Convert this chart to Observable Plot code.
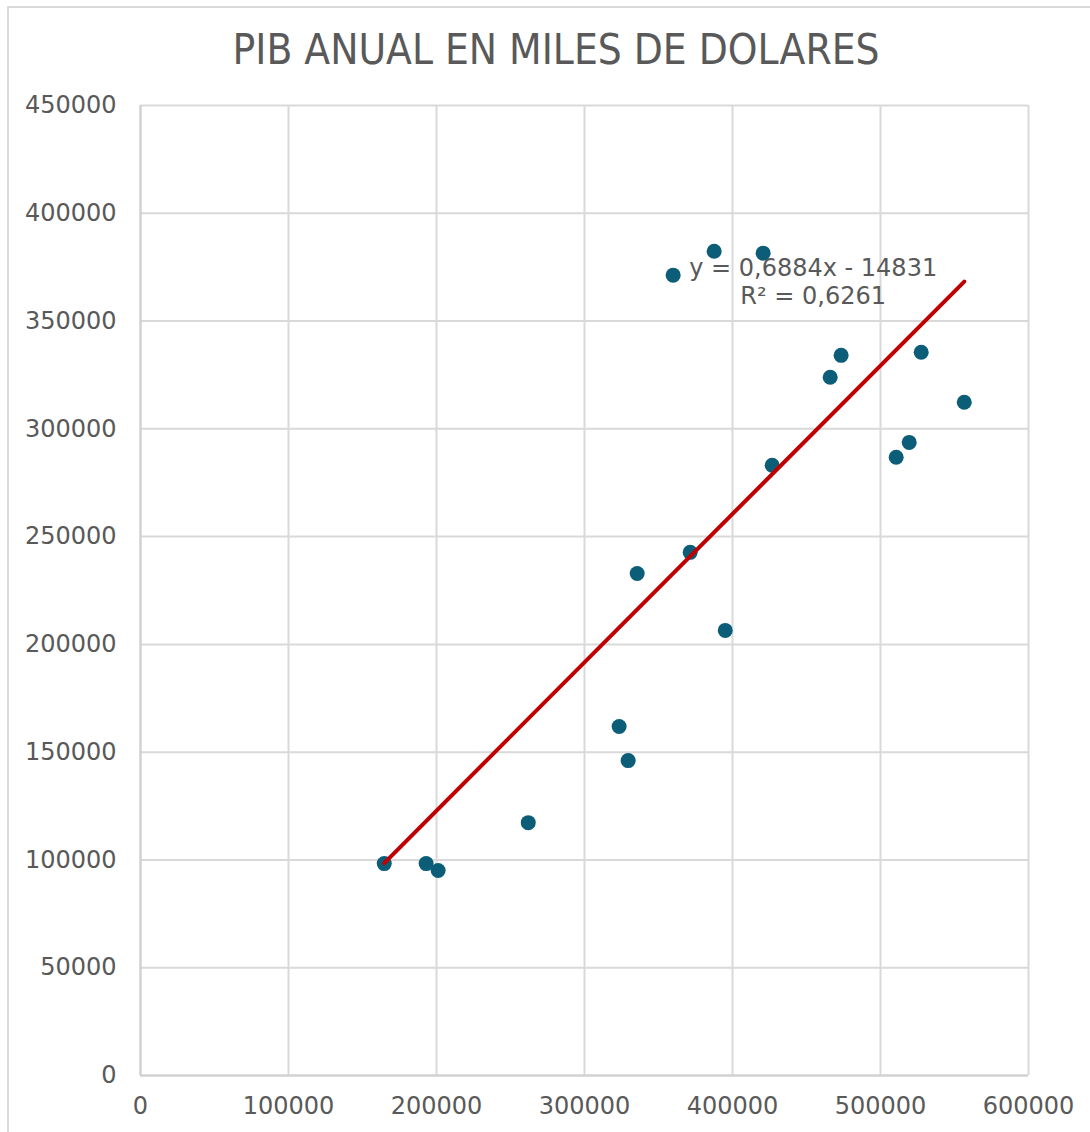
<!DOCTYPE html>
<html>
<head>
<meta charset="utf-8">
<script src="https://cdn.jsdelivr.net/npm/d3@7"></script>
<script src="https://cdn.jsdelivr.net/npm/@observablehq/plot@0.6"></script>
<style>
  html, body { margin: 0; padding: 0; background: #ffffff; }
  body { width: 1090px; height: 1132px; overflow: hidden; position: relative; font-family: "DejaVu Sans", Verdana, sans-serif; }
  #frame { position: absolute; left: 7px; top: 6px; width: 1200px; height: 1300px; border-left: 2px solid #d9d9d9; border-top: 2px solid #d9d9d9; }
  #title { position: absolute; left: 0; width: 1112px; top: 24px; line-height: 52px; text-align: center; font-family: "DejaVu Sans Condensed", "DejaVu Sans", sans-serif; font-size: 42px; color: #595959; white-space: nowrap; }
  #chart { position: absolute; left: 0; top: 80px; }
</style>
</head>
<body>
<div id="frame"></div>
<div id="title">PIB ANUAL EN MILES DE DOLARES</div>
<div id="chart"></div>
<script>
// Data
const xValues = [164700, 193000, 201100, 262000, 323400, 329500, 335600, 371400, 395100, 359900, 387600, 420700, 426800, 466000, 473400, 510600, 519400, 527500, 556600];
const yValues = [98300, 98300, 95100, 117300, 161900, 146100, 232900, 242700, 206500, 371300, 382400, 381500, 283100, 323900, 334100, 286800, 293700, 335500, 312300];
const xTicks = [0, 100000, 200000, 300000, 400000, 500000, 600000];
const yTicks = [0, 50000, 100000, 150000, 200000, 250000, 300000, 350000, 400000, 450000];
const trendSlope = 0.6884;
const trendIntercept = -14831;
const equationLines = ["y = 0,6884x - 14831", "R² = 0,6261"];
const equationAnchor = {x: 454500, y: 368500};

const points = xValues.map((x, i) => ({x, y: yValues[i]}));
const xExtent = d3.extent(xValues);
const trend = xExtent.map(x => ({x, y: trendSlope * x + trendIntercept}));

const chart = Plot.plot({
  width: 1090,
  height: 1060,
  marginLeft: 140,
  marginRight: 62,
  marginTop: 25,
  marginBottom: 65,
  style: {fontFamily: "'DejaVu Sans', Verdana, sans-serif", fontSize: "24px", color: "#595959", background: "transparent"},
  x: {domain: [0, 600000], ticks: xTicks},
  y: {domain: [0, 450000], ticks: yTicks},
  marks: [
    Plot.gridX(xTicks, {stroke: "#d9d9d9", strokeOpacity: 1, strokeWidth: 2}),
    Plot.gridY(yTicks, {stroke: "#d9d9d9", strokeOpacity: 1, strokeWidth: 2}),
    Plot.ruleY([0], {stroke: "#d0d0d0", strokeWidth: 2}),
    Plot.ruleX([0], {stroke: "#d0d0d0", strokeWidth: 2}),
    Plot.axisX({ticks: xTicks, tickSize: 0, tickPadding: 21, tickFormat: d => String(d), fill: "#595959", fontSize: 24, label: null}),
    Plot.axisY({ticks: yTicks, tickSize: 0, tickPadding: 24, tickFormat: d => String(d), fill: "#595959", fontSize: 24, label: null}),
    Plot.dot(points, {x: "x", y: "y", r: 7.5, fill: "#0b5d78", stroke: "none"}),
    Plot.line(trend, {x: "x", y: "y", stroke: "#c00000", strokeWidth: 4}),
    Plot.text([equationLines.join("\n")], {x: () => equationAnchor.x, y: () => equationAnchor.y, text: d => d, fill: "#595959", fontSize: 24, textAnchor: "middle", lineHeight: 1.17})
  ]
});
document.getElementById("chart").appendChild(chart);
</script>
</body>
</html>
